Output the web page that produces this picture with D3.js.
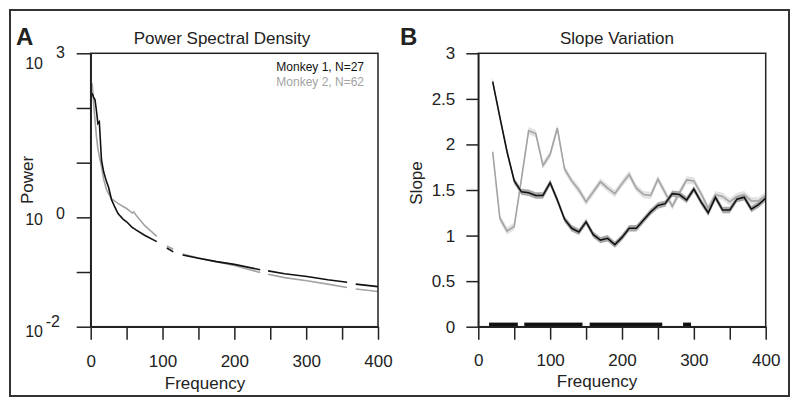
<!DOCTYPE html>
<html><head><meta charset="utf-8">
<script src="https://cdn.jsdelivr.net/npm/d3@7"></script>
<style>body{margin:0;background:#fff}svg{display:block}text{font-family:"Liberation Sans",Arial,Helvetica,sans-serif}</style>
</head><body><svg id="c" width="800" height="407"></svg>
<script>
// ---------- Panel A data (Power Spectral Density) ----------
const freqA = [2,4,6,8,10,12,15,18,22,25,29,33,38,45,50,58,60,63,75,92,99,106,115,121,128,150,175,200,236,241,247,270,301,330,357,363,369,400];
const powerM1 = [186,158,141,89,52,56,11.2,6.8,4.5,3.5,2.1,1.6,1.17,0.93,0.83,0.65,0.63,0.59,0.47,0.36,null,0.275,0.234,null,0.204,0.178,0.155,0.138,0.110,null,0.105,0.093,0.083,0.072,0.065,null,0.060,0.054];
const powerM2 = [282,126,60,30,18,13,8.5,5,3.2,2.7,2.2,2.0,1.8,1.58,1.45,1.2,1.26,1.1,0.71,0.45,null,0.30,0.26,null,0.214,0.18,0.155,0.132,0.098,null,0.091,0.079,0.069,0.060,0.052,null,0.049,0.044];
const legendLabels = ["Monkey 1, N=27","Monkey 2, N=62"];
const yTicksA = [1e-2,1e-1,1,10,100,1000];
const yLabelsA = [{v:1000,exp:"3"},{v:1,exp:"0"},{v:1e-2,exp:"-2"}];
const xTicks = [0,50,100,150,200,250,300,350,400];

// ---------- Panel B data (Slope Variation) ----------
const freqB = [20,30,40,50,60,70,80,90,100,110,120,130,140,150,160,170,180,190,200,210,220,230,240,250,260,270,280,290,300,310,320,330,340,350,360,370,380,390,400];
const slopeM1 = [2.69,2.30,1.92,1.60,1.48,1.47,1.44,1.44,1.58,1.39,1.18,1.08,1.04,1.15,1.01,0.95,0.97,0.90,0.98,1.08,1.08,1.17,1.26,1.33,1.35,1.46,1.45,1.39,1.51,1.37,1.25,1.42,1.28,1.28,1.40,1.42,1.29,1.34,1.41];
const slopeM2 = [1.92,1.19,1.05,1.10,1.62,2.15,2.12,1.77,1.89,2.18,1.73,1.60,1.50,1.37,1.48,1.59,1.52,1.46,1.57,1.67,1.52,1.45,1.44,1.62,1.47,1.32,1.47,1.61,1.60,1.46,1.30,1.45,1.43,1.37,1.43,1.45,1.38,1.38,1.44];
const semM1 = 0.035, semM2 = 0.04;
const sigRanges = [[15,55],[64,145],[155,256],[285,296]];
const sigHeight = 0.045;
const yTicksB = [0,0.5,1,1.5,2,2.5,3];

const svg = d3.select("#c");
const C1 = "#111", C2 = "#a3a3a3";

// outer frame
svg.append("rect").attr("x",10).attr("y",10).attr("width",779).attr("height",386)
  .attr("fill","none").attr("stroke","#333").attr("stroke-width",2);

// ===== Panel A =====
const xA = d3.scaleLinear().domain([0,400]).range([90.7,378]);
const yA = d3.scaleLog().domain([1e-2,1e3]).range([326.7,53.3]);
const gA = svg.append("g");

function lineA(vals){
  return d3.line().defined((d,i)=>vals[i]!=null).x((d,i)=>xA(freqA[i])).y((d,i)=>yA(vals[i]))(freqA);
}
gA.append("path").attr("d",lineA(powerM2)).attr("fill","none").attr("stroke",C2).attr("stroke-width",1.6);
gA.append("path").attr("d",lineA(powerM1)).attr("fill","none").attr("stroke",C1).attr("stroke-width",1.6);

function styleAxis(g){
  g.selectAll("path,line").attr("stroke","#222").attr("stroke-width",1.5);
  g.selectAll("text").attr("font-size",17).attr("fill","#222").attr("font-family",'"Liberation Sans",Arial,sans-serif');
}
// box
gA.append("rect").attr("x",xA(0)).attr("y",yA(1e3)).attr("width",xA(400)-xA(0)).attr("height",yA(1e-2)-yA(1e3))
  .attr("fill","none").attr("stroke","#222").attr("stroke-width",1.5);
gA.append("g").attr("transform",`translate(${xA(0)},0)`)
  .call(d3.axisLeft(yA).tickValues(yTicksA).tickSize(14).tickSizeOuter(0).tickFormat(""))
  .call(styleAxis);
gA.append("g").attr("transform",`translate(0,${yA(1e-2)})`)
  .call(d3.axisBottom(xA).tickValues(xTicks).tickSize(13).tickSizeOuter(0).tickPadding(15).tickFormat(d=>d%100===0?d:""))
  .call(styleAxis);
// log labels: [offset of "10", offset of exponent, exponent right edge]
const labOff = {"3":[10,-1,65],"0":[2,-4,65],"-2":[5,-5,60]};
yLabelsA.forEach(l=>{
  const ty = yA(l.v), o = labOff[l.exp];
  gA.append("text").attr("x",43).attr("y",ty+o[0]).attr("dy","0.35em").attr("text-anchor","end")
    .attr("font-size",16).attr("fill","#222").text("10");
  gA.append("text").attr("x",o[2]).attr("y",ty+o[1]).attr("dy","0.35em").attr("text-anchor","end")
    .attr("font-size",16).attr("fill","#222").text(l.exp);
});
gA.append("text").attr("transform","translate(33,180) rotate(-90)").attr("text-anchor","middle")
  .attr("font-size",17).attr("fill","#222").text("Power");
gA.append("text").attr("x",205).attr("y",389).attr("text-anchor","middle").attr("font-size",17).attr("fill","#222").text("Frequency");
gA.append("text").attr("x",222).attr("y",44).attr("text-anchor","middle").attr("font-size",17).attr("fill","#222").text("Power Spectral Density");
gA.append("text").attr("x",16).attr("y",45).attr("font-size",24).attr("font-weight","bold").attr("fill","#222").text("A");
gA.append("text").attr("x",364).attr("y",71).attr("text-anchor","end").attr("font-size",12).attr("fill",C1).text(legendLabels[0]);
gA.append("text").attr("x",364).attr("y",86).attr("text-anchor","end").attr("font-size",12).attr("fill",C2).text(legendLabels[1]);

// ===== Panel B =====
const xB = d3.scaleLinear().domain([0,400]).range([478.3,765.7]);
const yB = d3.scaleLinear().domain([0,3]).range([326.7,53.3]);
const gB = svg.append("g");

function band(vals,e){
  return d3.area().x((d,i)=>xB(freqB[i])).y0((d,i)=>yB(vals[i]-e)).y1((d,i)=>yB(vals[i]+e))(freqB);
}
function lineB(vals){
  return d3.line().x((d,i)=>xB(freqB[i])).y((d,i)=>yB(vals[i]))(freqB);
}
gB.append("path").attr("d",band(slopeM2,semM2)).attr("fill","#e2e2e2");
gB.append("path").attr("d",lineB(slopeM2)).attr("fill","none").attr("stroke",C2).attr("stroke-width",1.6);
gB.append("path").attr("d",band(slopeM1,semM1)).attr("fill","#a8a8a8");
gB.append("path").attr("d",lineB(slopeM1)).attr("fill","none").attr("stroke",C1).attr("stroke-width",1.6);

gB.selectAll("rect.sig").data(sigRanges).enter().append("rect").attr("class","sig")
  .attr("x",d=>xB(d[0])).attr("width",d=>xB(d[1])-xB(d[0]))
  .attr("y",yB(sigHeight)).attr("height",yB(0)-yB(sigHeight)).attr("fill","#111");

gB.append("rect").attr("x",xB(0)).attr("y",yB(3)).attr("width",xB(400)-xB(0)).attr("height",yB(0)-yB(3))
  .attr("fill","none").attr("stroke","#222").attr("stroke-width",1.5);
gB.append("g").attr("transform",`translate(${xB(0)},0)`)
  .call(d3.axisLeft(yB).tickValues(yTicksB).tickSize(12).tickSizeOuter(0).tickPadding(11).tickFormat(d=>d))
  .call(styleAxis);
gB.append("g").attr("transform",`translate(0,${yB(0)})`)
  .call(d3.axisBottom(xB).tickValues(xTicks).tickSize(13).tickSizeOuter(0).tickPadding(14).tickFormat(d=>d%100===0?d:""))
  .call(styleAxis);
gB.append("text").attr("transform","translate(422,183) rotate(-90)").attr("text-anchor","middle")
  .attr("font-size",17).attr("fill","#222").text("Slope");
gB.append("text").attr("x",597).attr("y",387).attr("text-anchor","middle").attr("font-size",17).attr("fill","#222").text("Frequency");
gB.append("text").attr("x",617).attr("y",44).attr("text-anchor","middle").attr("font-size",17).attr("fill","#222").text("Slope Variation");
gB.append("text").attr("x",400).attr("y",45).attr("font-size",24).attr("font-weight","bold").attr("fill","#222").text("B");
</script></body></html>
